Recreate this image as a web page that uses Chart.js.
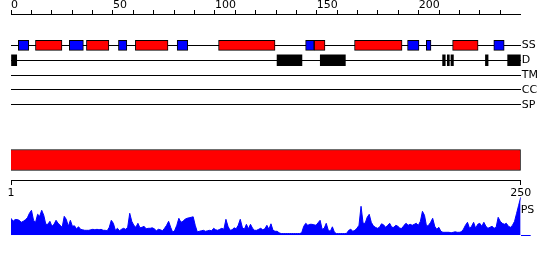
<!DOCTYPE html>
<html><head><meta charset="utf-8">
<script src="https://cdn.jsdelivr.net/npm/chart.js"></script>
<style>
html,body{margin:0;padding:0;background:#fff;}
#wrap{position:relative;width:550px;height:260px;overflow:hidden;}
#wrap canvas{position:absolute;left:0;}
</style></head><body>
<div id="wrap">
<canvas id="tracks" width="550" height="120" style="top:0px"></canvas>
<canvas id="seq" width="550" height="62" style="top:140px"></canvas>
<canvas id="ps" width="550" height="45" style="top:195px"></canvas>
</div>
<script>
// ---------- data ----------
const trackRows = ['SS', 'D', 'TM', 'CC', 'SP'];
const topTickValues = [0,10,20,30,40,50,60,70,80,90,100,110,120,130,140,150,160,170,180,190,200,210,220,230,240];
const topTickLabels = ['0', '50', '100', '150', '200'];
const bottomTickValues = [1, 250];
const seqLength = 250;

// secondary structure: helices (red) and strands (blue), residue spans
const helixSpans = [[12,25],[37,48],[61,77],[101.8,129.5],[148.7,154],[168.5,191.8],[216.6,229.1]];
const strandSpans = [[3.6,8.7],[28.6,35.5],[52.7,56.8],[81.5,86.7],[144.5,148.7],[194.5,200.1],[203.7,206],[236.8,241.9]];
// disordered regions
const disorderSpans = [[0,2.8],[130.5,142.7],[151.7,164],[211.7,213],[214,215],[215.8,217],[232.7,234],[243.6,250]];
// whole sequence bar
const seqSpan = [0.5, 250];

// PS profile, one value per residue (1..250)
const psValues = [
  17, 14, 15.7, 15.7, 15, 13, 14, 15.5, 17.5, 22,
  25, 15, 13, 21, 19, 25, 20, 11, 11, 14,
  9, 11, 15, 12, 10, 8, 19, 16, 9, 15,
  9, 9.5, 6.5, 8.5, 6, 5.5, 5, 5, 5, 5.5,
  6, 5.5, 6, 5.5, 6, 5, 5, 4.5, 8, 15,
  12, 5, 7, 4.5, 6, 7, 6, 8, 22, 14,
  10, 8, 12, 7.5, 8, 9, 6.5, 7, 7, 7.5,
  6.5, 4.5, 6, 5.5, 4.5, 7, 10, 14, 8, 3,
  5, 10, 17, 13, 14, 16, 17, 17.5, 18, 18.5,
  10, 3.5, 4, 4.5, 5, 4, 4.5, 5, 4.5, 7,
  5.5, 5, 6, 7, 6, 16, 9, 5, 5.5, 7.5,
  6.5, 10, 16, 8, 6, 11, 6.5, 11, 7, 5,
  5, 6, 7, 5.5, 6.5, 10, 6, 11.5, 5, 4,
  4, 2.5, 1.7, 1.7, 1.7, 1.7, 1.7, 1.7, 1.7, 1.7,
  1.7, 1.7, 2.5, 9, 12, 10, 11, 11, 10.5, 10,
  12.5, 15, 6, 7, 12, 5, 4, 8.5, 3, 1.7,
  1.7, 1.7, 1.7, 1.7, 2, 5, 6, 4, 5, 7,
  10, 29, 12, 12, 18, 21, 13, 9.5, 8, 7,
  8, 11.5, 10.5, 8, 10, 12, 8, 8, 10, 9,
  7, 7, 10, 12, 10, 11, 10, 11, 12, 10,
  14, 24, 20, 9, 10, 13, 17, 9, 6, 8,
  4, 3, 3, 3, 3, 2.5, 3, 3.5, 3, 3,
  3.5, 6, 10, 13, 7, 9, 13, 7, 11, 12,
  9, 13, 9, 7, 8, 9, 7, 8, 18, 14,
  12, 11, 12, 9, 8, 10, 14, 22, 30, 38
];
const psLabel = 'PS';
const psLabelLevel = 24.8;

// ---------- charts ----------
const FONT = {family: "'DejaVu Sans', sans-serif", size: 11};
const AXIS_W = 29.3;
const rowOf = name => trackRows.indexOf(name) + 1;
const toBars = (spans, row) => spans.map(s => ({x: s, y: rowOf(row)}));
const noPlugins = {legend: {display: false}, tooltip: {enabled: false}};

new Chart(document.getElementById('tracks'), {
  type: 'bar',
  data: {datasets: [
    {data: toBars(helixSpans, 'SS'), backgroundColor: '#ff0000', borderColor: '#000', borderWidth: 1, borderSkipped: false, barThickness: 10, grouped: false},
    {data: toBars(strandSpans, 'SS'), backgroundColor: '#0000ff', borderColor: '#000', borderWidth: 1, borderSkipped: false, barThickness: 10, grouped: false},
    {data: toBars(disorderSpans, 'D'), backgroundColor: '#000', borderWidth: 0, barThickness: 11, grouped: false}
  ]},
  options: {
    responsive: false, animation: false, indexAxis: 'y',
    layout: {padding: {left: 11, right: 0, top: 0, bottom: 0}},
    plugins: noPlugins,
    scales: {
      x: {
        type: 'linear', position: 'top', min: 0, max: seqLength, offset: false,
        afterBuildTicks: s => { s.ticks = topTickValues.map(v => ({value: v})); },
        ticks: {autoSkip: false, maxRotation: 0, align: 'start', padding: -2, color: '#000', font: FONT,
          callback: v => topTickLabels.includes(String(v)) ? String(v) : ''},
        grid: {drawOnChartArea: false, tickLength: 4, color: '#000', offset: false},
        border: {color: '#000'},
        afterFit: s => { s.height = 14; }
      },
      y: {
        type: 'linear', position: 'right', reverse: true, min: -1.113, max: 5.514, offset: false,
        afterBuildTicks: s => { s.ticks = trackRows.map((r, i) => ({value: i + 1})); },
        ticks: {autoSkip: false, padding: 1, color: '#000', font: FONT, callback: v => trackRows[v - 1]},
        grid: {color: '#000', drawTicks: false, offset: false},
        border: {display: false},
        afterFit: s => { s.width = AXIS_W; }
      }
    }
  }
});

new Chart(document.getElementById('seq'), {
  type: 'bar',
  data: {labels: ['seq'], datasets: [
    {data: [{x: seqSpan, y: 'seq'}], backgroundColor: '#ff0000', borderColor: '#000', borderWidth: 1, borderSkipped: false, barThickness: 21}
  ]},
  options: {
    responsive: false, animation: false, indexAxis: 'y',
    layout: {padding: {left: 11, right: AXIS_W, top: 0, bottom: 0}},
    plugins: noPlugins,
    scales: {
      x: {
        type: 'linear', position: 'bottom', min: 1, max: seqLength,
        afterBuildTicks: s => { s.ticks = bottomTickValues.map(v => ({value: v})); },
        ticks: {autoSkip: false, maxRotation: 0, padding: 2, color: '#000', font: FONT},
        grid: {drawOnChartArea: false, tickLength: 5, color: '#000'},
        border: {color: '#000'},
        afterFit: s => { s.height = 22; }
      },
      y: {type: 'category', display: false}
    }
  }
});

const residues = psValues.map((v, i) => i + 1);
new Chart(document.getElementById('ps'), {
  type: 'line',
  data: {datasets: [{
    data: residues.map((r, i) => ({x: r, y: psValues[i]})),
    fill: 'origin', backgroundColor: '#0000ff', borderColor: '#0000ff', borderWidth: 1,
    pointRadius: 0, tension: 0
  }]},
  options: {
    responsive: false, animation: false,
    layout: {padding: {left: 11, right: 0, top: 0, bottom: 4.7}},
    plugins: noPlugins,
    scales: {
      x: {type: 'linear', min: 1, max: seqLength, display: false},
      y: {
        type: 'linear', position: 'right', min: 0, max: 40.3,
        afterBuildTicks: s => { s.ticks = [{value: 0}, {value: psLabelLevel}]; },
        ticks: {autoSkip: false, padding: -10, color: '#000', font: FONT, callback: v => v === 0 ? '' : psLabel},
        grid: {drawOnChartArea: false, tickLength: 10,
          color: c => (c.tick && c.tick.value === 0) ? '#0000ff' : 'rgba(0,0,0,0)'},
        border: {display: false},
        afterFit: s => { s.width = AXIS_W; }
      }
    }
  }
});
</script>
</body></html>
